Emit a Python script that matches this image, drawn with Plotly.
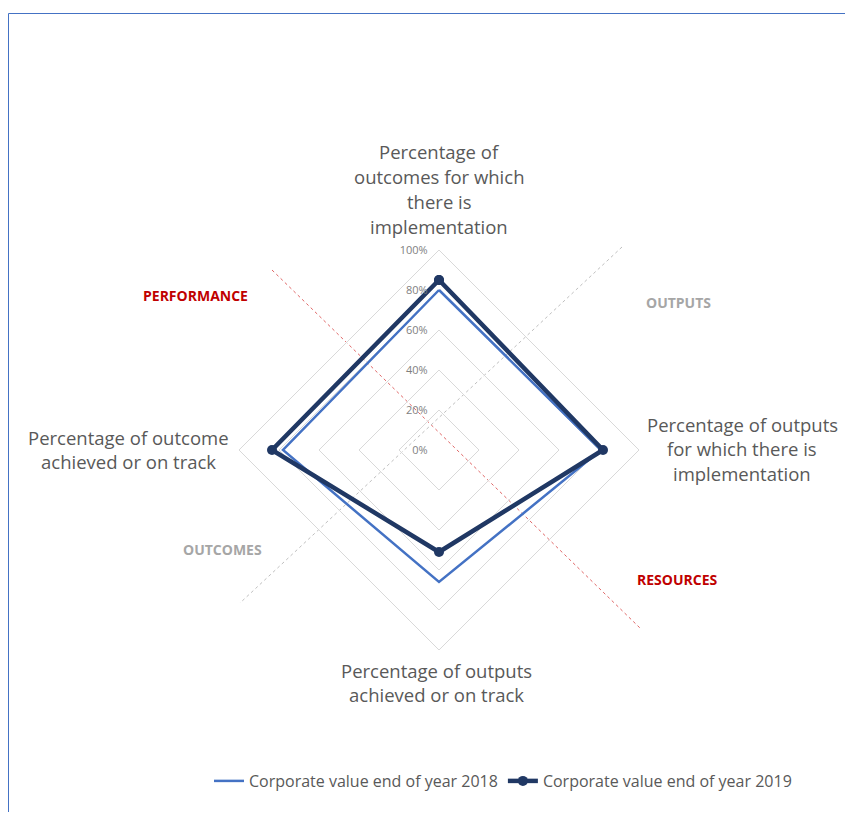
import plotly.graph_objects as go

# page has an 8px body margin, so the figure is offset by 8px
OFF = 8
W, H = 853 - 2 * OFF, 820 - 2 * OFF
# axis labels (clockwise from top) and values
categories = [["Percentage of", "outcomes for which", "there is", "implementation"],
              ["Percentage of outputs", "for which there is", "implementation"],
              ["Percentage of outputs", "achieved or on track"],
              ["Percentage of outcome", "achieved or on track"]]
cat_ids = ["top", "right", "bottom", "left"]
val_2018 = [0.80, 0.81, 0.66, 0.78]
val_2019 = [0.85, 0.82, 0.51, 0.835]
ticks = [0, 0.2, 0.4, 0.6, 0.8, 1.0]
zones = ["PERFORMANCE", "OUTPUTS", "RESOURCES", "OUTCOMES"]

def px(x): return (x - OFF) / W
def py(y): return 1 - (y - OFF) / H

cx, cy, R = 439, 450, 200

fig = go.Figure()
fig.add_trace(go.Scatterpolar(r=val_2018 + val_2018[:1], theta=cat_ids + cat_ids[:1],
                              mode="lines", name="Corporate value end of year 2018",
                              line=dict(color="#4472C4", width=2.5)))
fig.add_trace(go.Scatterpolar(r=val_2019 + val_2019[:1], theta=cat_ids + cat_ids[:1],
                              mode="lines+markers", name="Corporate value end of year 2019",
                              line=dict(color="#203864", width=4.5),
                              marker=dict(color="#203864", size=10)))

fig.update_layout(
    width=W, height=H, margin=dict(l=0, r=0, t=0, b=0),
    paper_bgcolor="white",
    font=dict(family="Open Sans", color="#595959"),
    polar=dict(
        domain=dict(x=[px(cx - R), px(cx + R)], y=[py(cy + R), py(cy - R)]),
        bgcolor="rgba(0,0,0,0)",
        gridshape="linear",
        angularaxis=dict(type="category", categoryarray=cat_ids, rotation=90, direction="clockwise",
                         showgrid=False, showline=True, linecolor="#d9d9d9",
                         showticklabels=False, ticks=""),
        radialaxis=dict(range=[0, 1], tickvals=ticks, tickformat=".0%", angle=90, tickangle=90,
                        side="counterclockwise", showline=False,
                        ticks="outside", ticklen=7, tickcolor="rgba(0,0,0,0)",
                        gridcolor="#d9d9d9", tickfont=dict(size=11, color="#7f7f7f")),
    ),
    showlegend=True,
    legend=dict(orientation="h", x=px(503), xanchor="center", y=py(781), yanchor="middle",
                font=dict(size=16, color="#595959"), itemwidth=30),
)

# category labels, one annotation per line
lab_pos = [(439, 152), (742, 424), (437, 670), (128, 437)]
for lines, (x, y) in zip(categories, lab_pos):
    for i, ln in enumerate(lines):
        fig.add_annotation(x=px(x), y=py(y + i * 24.7), xref="paper", yref="paper", text=ln,
                           xanchor="center", yanchor="middle",
                           showarrow=False, font=dict(size=18.5, color="#595959"))

# zone labels
zone_pos = [(195, 296), (678, 302), (677, 579), (222, 549)]
zone_col = ["#C00000", "#A6A6A6", "#C00000", "#A6A6A6"]
for txt, (x, y), c in zip(zones, zone_pos, zone_col):
    fig.add_annotation(x=px(x), y=py(y), xref="paper", yref="paper", text="<b>" + txt + "</b>",
                       xanchor="center", yanchor="middle",
                       showarrow=False, font=dict(size=14, color=c))

# dotted divider lines
fig.add_shape(type="line", xref="paper", yref="paper", x0=px(272), y0=py(270), x1=px(640), y1=py(628),
              line=dict(color="#E06666", width=1, dash="dot"), layer="below")
fig.add_shape(type="line", xref="paper", yref="paper", x0=px(622), y0=py(247), x1=px(240), y1=py(603),
              line=dict(color="#BFBFBF", width=1, dash="dot"), layer="below")

# frame border (top and left)
fig.add_shape(type="line", xref="paper", yref="paper", x0=px(8.5), y0=py(13.5), x1=1, y1=py(13.5),
              line=dict(color="#4472C4", width=1))
fig.add_shape(type="line", xref="paper", yref="paper", x0=px(8.5), y0=py(13.5), x1=px(8.5), y1=0,
              line=dict(color="#4472C4", width=1))

fig.write_html("out.html")
